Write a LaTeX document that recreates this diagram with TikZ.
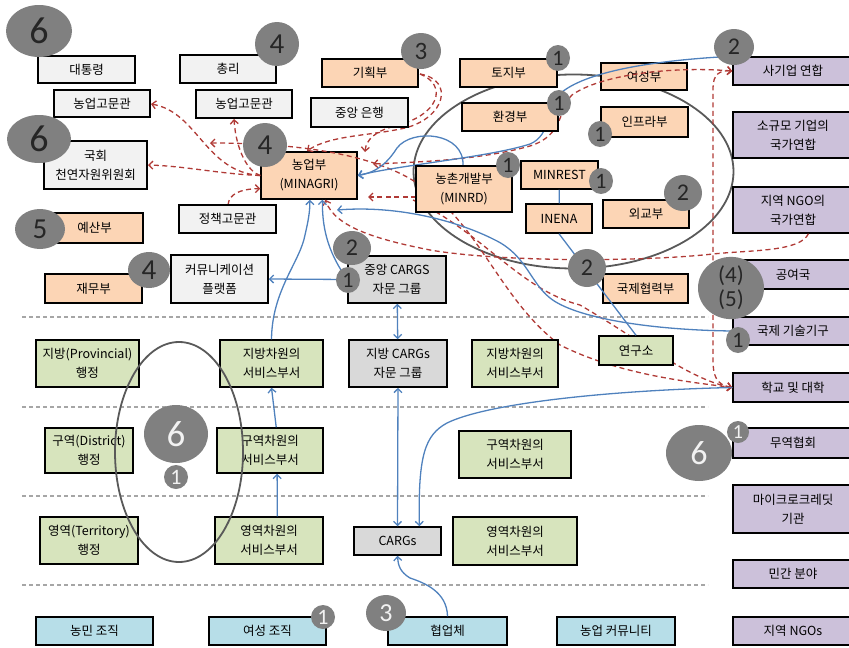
\documentclass[tikz,border=0pt]{standalone}
\usepackage{fontspec}
\setmainfont{Noto Sans CJK KR}
\newfontfamily\numfont{Carlito}
\usetikzlibrary{shapes.geometric,arrows.meta,calc}
\definecolor{PeachFill}{RGB}{252,213,181}
\definecolor{PaleGray}{RGB}{242,242,242}
\definecolor{MidGray}{RGB}{217,217,217}
\definecolor{SageFill}{RGB}{215,228,189}
\definecolor{SkyFill}{RGB}{183,222,232}
\definecolor{LilacFill}{RGB}{204,193,218}
\definecolor{BadgeGray}{RGB}{128,128,128}
\definecolor{DashRed}{RGB}{176,58,54}
\definecolor{LinkBlue}{RGB}{79,129,189}
\definecolor{RingGray}{RGB}{89,89,89}
\definecolor{SepGray}{RGB}{166,166,166}

\tikzset{
  box/.style={draw=black, line width=1.5pt, align=center, inner sep=1pt,
    font=\fontsize{12.5}{19}\selectfont},
  sz/.style 2 args={minimum width=#1pt, minimum height=#2pt},
  peach/.style={box, fill=PeachFill},
  pale/.style={box, fill=PaleGray},
  cargs/.style={box, fill=MidGray},
  sage/.style={box, fill=SageFill},
  sky/.style={box, fill=SkyFill},
  lilac/.style={box, fill=LilacFill, sz={120}{#1}},
  badge/.style={ellipse, fill=BadgeGray, inner sep=0pt, text=black!85},
  wbadge/.style={badge, text=white!90!gray},
  rd/.style={draw=DashRed, line width=1.3pt, dash pattern=on 5pt off 3.5pt,
    -{Straight Barb[length=4pt,width=8pt]}},
  bl/.style={draw=LinkBlue, line width=1.3pt,
    -{Straight Barb[length=4pt,width=8pt]}},
  both/.style={{Straight Barb[length=4pt,width=8pt]}-{Straight Barb[length=4pt,width=8pt]}},
  ring/.style={draw=RingGray, line width=1.8pt},
  sep/.style={draw=SepGray, line width=1.2pt, dash pattern=on 4pt off 3pt}
}

\begin{document}
\begin{tikzpicture}[x=1pt, y=-1pt]
  \useasboundingbox (0,0) rectangle (849,648);

  % ministries ring
  \draw[ring] (573.5,171.5) ellipse [x radius=160, y radius=97];

  % level separators
  \foreach \yy in {317,407,496,585}
    \draw[sep] (22,\yy) -- (708,\yy);

  \node[peach, sz={86}{27}] (women) at (644,76.5) {여성부};

  % boxes that the links start from or end at
  \node[peach, sz={96}{47}] (minagri) at (309,175.5) {농업부\\(MINAGRI)};
  \node[lilac=28] (corp) at (793,71) {사기업 연합};
  \node[lilac=46] (ngo) at (793,210) {지역 NGO의\\국가연합};
  \node[lilac=28] (tech) at (793,331) {국제 기술기구};
  \node[lilac=29] (school) at (793,387.5) {학교 및 대학};
  \coordinate (leftEnd) at (210,143);
  \coordinate (rightEnd) at (373,164);
  \coordinate (rdEnd) at (368,197);
  \coordinate (techEnd) at (337,210);

  % dashed links
  \draw[rd] (minagri.west) .. controls (205,172) and (198,112) .. (151,104);
  \draw[rd] (minagri.west) .. controls (220,174) and (185,166) .. (148,165);
  \draw[rd] (minagri.west) .. controls (248,172) and (236,150) .. (234,119);
  \draw[rd] (228,205) .. controls (229,194) and (240,189) .. (minagri.195);
  \draw[rd] (420,74) .. controls (455,80) and (445,118) .. (405,128)
    .. controls (370,136) and (330,135) .. (307,151);
  \draw[rd] (420,74) .. controls (448,85) and (440,115) .. (395,126)
    .. controls (375,131) and (366,140) .. (365,152);
  \draw[rd, both]
    (corp.west) .. controls (670,66) and (600,75) .. (572,95)
    .. controls (558,108) and (565,135) .. (530,146)
    .. controls (480,160) and (420,162) .. (rightEnd);
  \draw[rd] (416,197) -- (rdEnd);
  \draw[rd] (ngo.-57) .. controls (800,252) and (750,250) .. (713,254)
    .. controls (640,262) and (500,262) .. (430,250)
    .. controls (380,240) and (335,228) .. (minagri.-56);
  \draw[rd, both]
    (leftEnd) .. controls (280,143) and (370,150) .. (420,185)
    .. controls (480,225) and (500,300) .. (560,345)
    .. controls (620,375) and (690,382) .. (school.west);
  \draw[rd] (413,200) .. controls (480,230) and (520,290) .. (580,305)
    .. controls (640,340) and (690,380) .. (school.west);
  \draw[rd, both]
    (school.west) .. controls (716,385) and (713,375) .. (713,360)
    -- (713,88) .. controls (713,74) and (720,70) .. (corp.west);

  % solid links
  \draw[bl] (corp.north west) .. controls (660,60) and (590,70) .. (562,92)
    .. controls (546,106) and (552,135) .. (530,144)
    .. controls (490,157) and (400,165) .. (minagri.east);
  \draw[bl] (463,166) .. controls (465,132) and (412,128) .. (397,148)
    .. controls (388,162) and (378,172) .. (minagri.east);
  \draw[bl] (tech.west) .. controls (650,330) and (575,318) .. (550,298)
    .. controls (530,282) and (526,255) .. (495,240)
    .. controls (460,222) and (400,205) .. (techEnd);

  % remaining top boxes
  \node[pale, sz={97}{27}] (pres) at (86.5,69.5) {대통령};
  \node[pale, sz={96}{28}] (pm) at (228,69) {총리};
  \node[pale, sz={96}{27}] (advL) at (102,103.5) {농업고문관};
  \node[pale, sz={96}{28}] (advR) at (244,104) {농업고문관};
  \node[pale, sz={103}{48}] (parl) at (95.5,165) {국회\\천연자원위원회};
  \node[peach, sz={97}{30}] (budget) at (94.5,228) {예산부};
  \node[pale, sz={97}{28}] (policy) at (227.5,219) {정책고문관};
  \node[pale, sz={97}{48}] (comm) at (219.5,279) {커뮤니케이션\\플랫폼};
  \node[peach, sz={97}{29}] (fin) at (93.5,288.5) {재무부};
  \node[peach, sz={96}{28}] (plan) at (370,73) {기획부};
  \node[pale, sz={97}{29}] (bank) at (359.5,112.5) {중앙 은행};
  \node[peach, sz={97}{28}] (land) at (508.5,73) {토지부};
  \node[peach, sz={96}{28}] (env) at (510,117) {환경부};
  \node[peach, sz={96}{46}] (minrd) at (464,189) {농촌개발부\\(MINRD)};
  \node[peach, sz={77}{28}] (minrest) at (559.5,175) {MINREST};
  \node[peach, sz={66}{29}] (inena) at (559,218.5) {INENA};
  \node[peach, sz={87}{30}] (infra) at (644.5,122) {인프라부};
  \node[peach, sz={86}{28}] (foreign) at (646,214) {외교부};
  \node[peach, sz={85}{29}] (coopmin) at (645.5,288.5) {국제협력부};
  \node[cargs, sz={98}{47}] (cargsC) at (397,279.5) {중앙 CARGS\\자문 그룹};

  % right column
  \node[lilac=46] (small) at (793,135) {소규모 기업의\\국가연합};
  \node[lilac=29] (donor) at (793,274.5) {공여국};
  \node[lilac=30] (trade) at (793,443) {무역협회};
  \node[lilac=48] (micro) at (793,509) {마이크로크레딧\\기관};
  \node[lilac=28] (private) at (793,574) {민간 분야};
  \node[lilac=28] (localngo) at (793,631) {지역 NGOs};

  % provincial, district and territory levels
  \node[sage, sz={103}{47}] (provAdm) at (87.5,363.5) {지방(Provincial)\\행정};
  \node[sage, sz={103}{47}] (provSvc) at (271.5,363.5) {지방차원의\\서비스부서};
  \node[cargs, sz={98}{47}] (cargsP) at (398,363.5) {지방 CARGs\\자문 그룹};
  \node[sage, sz={86}{47}] (provSvcB) at (515,363.5) {지방차원의\\서비스부서};
  \node[sage, sz={74}{29}] (lab) at (636,350.5) {연구소};
  \node[sage, sz={88}{45}] (distAdm) at (89,450.5) {구역(District)\\행정};
  \node[sage, sz={106}{45}] (distSvc) at (270,450.5) {구역차원의\\서비스부서};
  \node[sage, sz={112}{47}] (distSvcB) at (515,454.5) {구역차원의\\서비스부서};
  \node[sage, sz={98}{47}] (terrAdm) at (89,540.5) {영역(Territory)\\행정};
  \node[sage, sz={108}{47}] (terrSvc) at (269,540.5) {영역차원의\\서비스부서};
  \node[cargs, sz={87}{28}] (cargsT) at (397.5,541) {CARGs};
  \node[sage, sz={124}{48}] (terrSvcB) at (515,541) {영역차원의\\서비스부서};
  \node[sky, sz={117}{28}] (farmer) at (94.5,631) {농민 조직};
  \node[sky, sz={117}{28}] (womenOrg) at (267.5,631) {여성 조직};
  \node[sky, sz={119}{28}] (coop) at (447.5,631) {협업체};
  \node[sky, sz={118}{28}] (community) at (616,631) {농업 커뮤니티};

  % links between the lower boxes
  \draw[bl, -] (minrest) -- (inena);
  \draw[bl, -] (inena.south) -- (lab.north);
  \draw[bl] (cargsC.west) -- (comm.east);
  \draw[bl] (cargsC.west) .. controls (330,255) and (322,232) .. (minagri.-61);
  \draw[bl] (provSvc.north) .. controls (272,290) and (300,262) .. (305,235)
    .. controls (308,222) and (310,212) .. (minagri.-88);
  \draw[bl, both] (cargsC) -- (cargsP);
  \draw[bl, both] (cargsP.south) -- (cargsT.north);
  \draw[bl] (school.west) .. controls (620,390) and (490,402) .. (447,423)
    .. controls (425,435) and (418,455) .. (cargsT.34);
  \draw[bl] (coop.north) .. controls (447,592) and (425,583) .. (410,578)
    .. controls (400,572) and (398,565) .. (cargsT.south);
  \draw[bl] (distSvc.75) -- (provSvc.south);
  \draw[bl] (terrSvc.71) -- (distSvc.-73);

  % circle of the local level
  \draw[ring] (179,452) ellipse [x radius=64, y radius=110];

  % numbered badges
  \node[badge, minimum width=66pt, minimum height=52pt, font=\numfont\fontsize{38}{38}\selectfont] at (39,31) {6};
  \node[badge, minimum width=64pt, minimum height=48pt, font=\numfont\fontsize{38}{38}\selectfont] at (39,139) {6};
  \node[badge, minimum width=50pt, minimum height=40pt, font=\numfont\fontsize{29}{29}\selectfont] at (40,229) {5};
  \node[badge, minimum width=44pt, minimum height=44pt, font=\numfont\fontsize{29}{29}\selectfont] at (277,44) {4};
  \node[badge, minimum width=44pt, minimum height=44pt, font=\numfont\fontsize{29}{29}\selectfont] at (265,145) {4};
  \node[badge, minimum width=42pt, minimum height=36pt, font=\numfont\fontsize{29}{29}\selectfont] at (149,270) {4};
  \node[badge, minimum width=40pt, minimum height=36pt, font=\numfont\fontsize{25}{25}\selectfont] at (421,51) {3};
  \node[badge, minimum width=38pt, minimum height=34pt, font=\numfont\fontsize{24}{24}\selectfont] at (352,248) {2};
  \node[badge, minimum width=40pt, minimum height=36pt, font=\numfont\fontsize{24}{24}\selectfont] at (734,47) {2};
  \node[badge, minimum width=38pt, minimum height=36pt, font=\numfont\fontsize{24}{24}\selectfont] at (683,193) {2};
  \node[badge, minimum width=38pt, minimum height=38pt, font=\numfont\fontsize{24}{24}\selectfont] at (587,268) {2};
  \node[badge, minimum width=66pt, minimum height=54pt, align=center, font=\numfont\fontsize{23}{24}\selectfont] at (731,288) {(4)\\(5)};
  \foreach \bx/\by in {348/280, 558/58, 559/103, 508/165, 601/181, 600/134, 738/340}
    \node[badge, minimum width=24pt, minimum height=26pt, font=\numfont\fontsize{22}{22}\selectfont] at (\bx,\by) {1};
  \node[wbadge, minimum width=66pt, minimum height=56pt, font=\numfont\fontsize{34}{34}\selectfont] at (699,453) {6};
  \node[wbadge, minimum width=22pt, minimum height=22pt, font=\numfont\fontsize{20}{20}\selectfont] at (738,432) {1};
  \node[wbadge, minimum width=64pt, minimum height=58pt, font=\numfont\fontsize{37}{37}\selectfont] at (176,434) {6};
  \node[wbadge, minimum width=24pt, minimum height=24pt, font=\numfont\fontsize{22}{22}\selectfont] at (176,477) {1};
  \node[wbadge, minimum width=24pt, minimum height=24pt, font=\numfont\fontsize{22}{22}\selectfont] at (323,617) {1};
  \node[wbadge, minimum width=40pt, minimum height=36pt, font=\numfont\fontsize{26}{26}\selectfont] at (386,613) {3};
\end{tikzpicture}
\end{document}
